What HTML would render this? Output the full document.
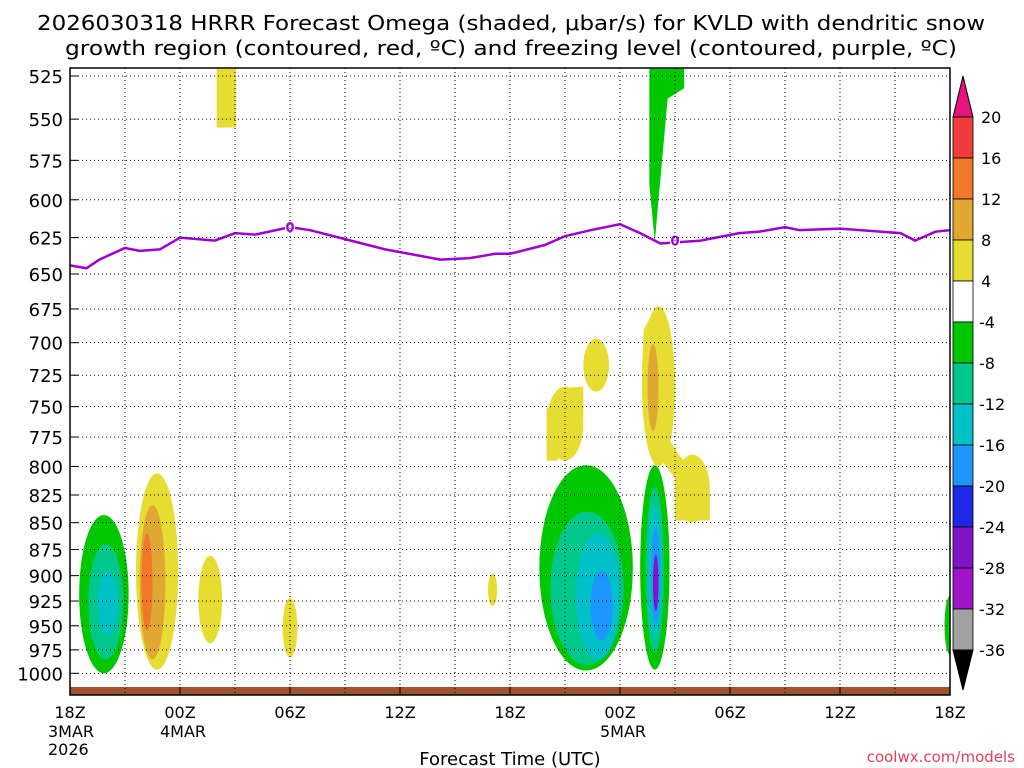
<!DOCTYPE html>
<html><head><meta charset="utf-8"><style>
body{margin:0;background:#fff;width:1024px;height:768px;overflow:hidden}
svg{display:block;font-family:"DejaVu Sans","Liberation Sans",sans-serif}
</style></head><body>
<svg id="c" width="1024" height="768">
<text x="511" y="30" text-anchor="middle" font-size="20" textLength="948" lengthAdjust="spacingAndGlyphs">2026030318 HRRR Forecast Omega (shaded, μbar/s) for KVLD with dendritic snow</text>
<text x="511" y="55" text-anchor="middle" font-size="20" textLength="892" lengthAdjust="spacingAndGlyphs">growth region (contoured, red, ºC) and freezing level (contoured, purple, ºC)</text>
<g id="plot"></g>
<text x="510" y="765" text-anchor="middle" font-size="18">Forecast Time (UTC)</text>
<text x="1015" y="762" text-anchor="end" font-size="15" fill="#e0405a">coolwx.com/models</text>
</svg>
<script>
const pressureTicks=[525,550,575,600,625,650,675,700,725,750,775,800,825,850,875,900,925,950,975,1000];
const timeTickHours=[0,6,12,18,24,30,36,42,48];
const timeTickLabels=["18Z","00Z","06Z","12Z","18Z","00Z","06Z","12Z","18Z"];
const dateLabels={0:["3MAR","2026"],6:["4MAR"],30:["5MAR"]};
const freezeHours=[0,0.9,1.6,3,3.8,4.9,6,7.9,9,10.1,12,13.1,15,17.2,20.2,21.8,23.2,24,25.9,27,28.4,30,31.1,32.2,34.4,36.5,37.6,39,39.8,42,44.2,45.3,46.1,47.2,48];
const freezeLevels=[644,646,640,632,634,633,625,627,622,623,618,620,626,633,640,639,636,636,630,624,620,616,622,629,627,622,621,618,620,619,621,622,627,621,620];
const bandLevels=[20,16,12,8,4,-4,-8,-12,-16,-20,-24,-28,-32,-36];
const bandColors=["#f03c3c","#f07828","#e0a832","#e6dc32","#ffffff","#00c800","#00c88c","#00c0c8","#1e96ff","#1e28e6","#8214c8","#a014c8","#a0a0a0"];
// blobs: [hourStart, hourEnd, pressureTop, pressureBottom, colorIndex]
const blobs=[
[0.5,3.2,843,1000,5],[1.0,2.9,870,985,6],[1.5,2.6,895,960,7],
[3.6,5.9,806,996,3],[3.8,5.2,834,985,2],[3.9,4.5,860,955,1],
[7.0,8.3,881,968,3],[11.6,12.4,922,983,3],[22.8,23.3,898,930,3],
[25.6,30.7,799,997,5],[26.2,30.2,840,991,6],[27.6,30.0,860,985,7],[28.4,29.6,895,965,8],
[31.1,32.7,799,996,5],[31.4,32.4,818,978,6],[31.55,32.25,835,962,7],[31.7,32.2,855,948,8],[31.8,32.1,880,935,10],
[26.0,28.0,734,795,3],[28.0,29.4,697,738,3],[31.2,33.0,673,800,3],[31.5,32.1,701,770,2],[33.0,34.9,790,850,3],
[47.7,48.3,920,980,5]
];
const spikes=[
[[8.0,521],[9.05,521],[9.05,555],[8.0,555],3],
[[31.6,521],[33.5,521],[33.5,532],[32.6,538],[32.1,600],[31.9,628],[31.6,590],5],
[[26.0,795],[26.0,752],[27.0,735],[28.0,734],[28.0,760],[26.8,780],[26.6,795],3],
[[31.3,690],[31.9,675],[32.3,700],[32.4,770],[33.2,790],[34.9,820],[34.9,848],[33.0,848],[33.0,810],[31.5,780],[31.2,720],3]
];
const X0=70,X1=950,Y0=68,Y1=695;
const xs=h=>X0+h*(X1-X0)/48;
const ys=p=>76+927*Math.log(p/525);
const NS="http://www.w3.org/2000/svg";
const plot=document.getElementById('plot');
function mk(t,a,parent){const e=document.createElementNS(NS,t);for(const k in a)e.setAttribute(k,a[k]);(parent||plot).appendChild(e);return e;}
const clip=mk('clipPath',{id:'pc'});mk('rect',{x:X0,y:Y0,width:X1-X0,height:Y1-Y0},clip);
const g=mk('g',{'clip-path':'url(#pc)'});
spikes.forEach(s=>{
 const pts=s.slice(0,-1).map(p=>xs(p[0])+','+ys(p[1])).join(' ');
 const e=mk('polygon',{points:pts,fill:bandColors[s[s.length-1]]},g);
 
 
});
blobs.forEach(b=>{
 const x0=xs(b[0]),x1=xs(b[1]),y0=ys(b[2]),y1=ys(b[3]);
 const e=mk('ellipse',{cx:(x0+x1)/2,cy:(y0+y1)/2,rx:(x1-x0)/2,ry:(y1-y0)/2,fill:bandColors[b[4]]},g);
 
 
});
// ground
const gr=mk('rect',{x:X0,y:687,width:X1-X0,height:8,fill:'#a0522d'},g);


// grid
pressureTicks.forEach((p,i)=>{
 const y=ys(p);
 const l=mk('line',{x1:X0,x2:X1,y1:y,y2:y,stroke:'#000','stroke-width':1,'stroke-dasharray':'1,3'});
 
 
 mk('line',{x1:X0,x2:X0+8,y1:y,y2:y,stroke:'#000'});
 const t=mk('text',{x:63,y:y+7,'text-anchor':'end','font-size':18});t.textContent=p;
 
 
});
for(let h=3;h<48;h+=3){
 const x=xs(h);
 const l=mk('line',{x1:x,x2:x,y1:Y0,y2:Y1,stroke:'#000','stroke-width':1,'stroke-dasharray':'1,3'});
 
 
}
timeTickHours.forEach((h,i)=>{
 const x=xs(h);
 mk('line',{x1:x,x2:x,y1:Y1,y2:Y1-8,stroke:'#000'});
 const t=mk('text',{x:x,y:718,'text-anchor':'middle','font-size':16});t.textContent=timeTickLabels[i];
 
 
 (dateLabels[h]||[]).forEach((d,j)=>{
  const t2=mk('text',{x:h===0?x-22:x-20,y:737+j*18,'font-size':16});t2.textContent=d;
  
  
 });
});
// freezing level
const fl=mk('polyline',{points:freezeHours.map((h,i)=>xs(h)+','+ys(freezeLevels[i])).join(' '),fill:'none',stroke:'#a000d0','stroke-width':2.5},g);


[[12,'0'],[33,'0']].forEach(([h,s])=>{
 let i=freezeHours.findIndex(v=>v>=h);const y=ys(freezeLevels[i]);
 mk('rect',{x:xs(h)-5,y:y-8,width:10,height:14,fill:'#fff'},g);
 const t=mk('text',{x:xs(h),y:y+5,'text-anchor':'middle','font-size':13,'font-weight':'bold',fill:'#a000d0'},g);t.textContent=s;
 
 
});
const fr=mk('rect',{x:X0,y:Y0,width:X1-X0,height:Y1-Y0,fill:'none',stroke:'#000','stroke-width':1.5});


// colorbar
const cb=mk('g',{});
const CX=953,CW=20,CT=117,CH=41;
mk('polygon',{points:`${CX},${CT} ${CX+CW},${CT} ${CX+CW/2},76`,fill:'#e6147f',stroke:'#000'},cb);
bandColors.forEach((c,i)=>{mk('rect',{x:CX,y:CT+i*CH,width:CW,height:CH,fill:c,stroke:'#000','stroke-width':0.8},cb);});
const cbEnd=CT+bandColors.length*CH;
mk('polygon',{points:`${CX},${cbEnd} ${CX+CW},${cbEnd} ${CX+CW/2},690`,fill:'#000',stroke:'#000'},cb);
bandLevels.forEach((v,i)=>{
 const t=mk('text',{x:v<0?979:981,y:CT+i*CH+6,'font-size':16},cb);t.textContent=v;
 
 
});
</script>
</body></html>
